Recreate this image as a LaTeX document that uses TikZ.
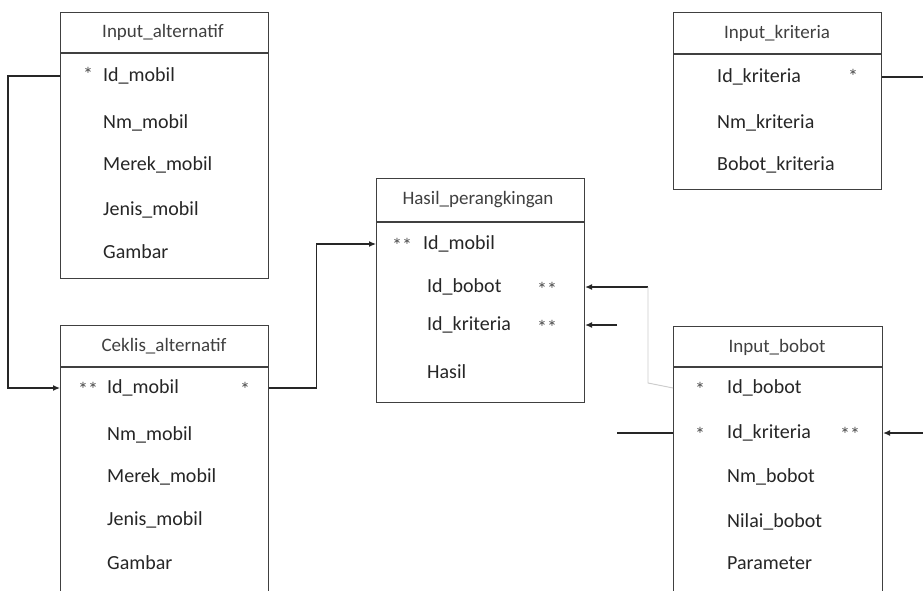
\documentclass[tikz,border=0pt]{standalone}
\usepackage{fontspec}
\setmainfont{Carlito}
\usetikzlibrary{arrows.meta}
\begin{document}
\begin{tikzpicture}[x=1pt,y=-1pt,
  tbl/.style={draw=black!75, line width=1.1pt, anchor=north west, inner sep=0pt, minimum width=208pt},
  hline/.style={draw=black!75, line width=1.1pt},
  fld/.style={anchor=west, inner sep=0pt, font=\fontsize{20}{24}\selectfont, text=black!85},
  ttl/.style={anchor=center, inner sep=0pt, font=\fontsize{19}{23}\selectfont, text=black!75},
  starlbl/.style={anchor=center, inner sep=0pt, font=\fontsize{20}{24}\selectfont, text=black!70},
  conn/.style={draw=black!85, line width=1.2pt},
  faint/.style={draw=black!20, line width=0.9pt},
  arr/.style={-{Latex[length=7pt,width=6pt]}}
]
\clip (0,0) rectangle (923,590);
\fill[white] (0,0) rectangle (923,590);

% Input_alternatif
\node[tbl, minimum height=266pt] (ia) at (60,12) {};
\draw[hline] (60,53) -- (268,53);
\node[ttl] (iat) at (163,32) {Input\_alternatif};
\node[starlbl] (ias) at (88,74) {*};
\node[fld] (ia1) at (103,76) {Id\_mobil};
\node[fld] (ia2) at (103,123) {Nm\_mobil};
\node[fld] (ia3) at (103,165) {Merek\_mobil};
\node[fld] (ia4) at (103,210) {Jenis\_mobil};
\node[fld] (ia5) at (103,252) {Gambar};

% Ceklis_alternatif
\node[tbl, minimum height=280pt] (ca) at (60,325) {};
\draw[hline] (60,367) -- (268,367);
\node[ttl] (cat) at (164,346) {Ceklis\_alternatif};
\node[starlbl] (cas1) at (88,389) {**};
\node[starlbl] (cas2) at (245,389) {*};
\node[fld] (ca1) at (107,388) {Id\_mobil};
\node[fld] (ca2) at (107,435) {Nm\_mobil};
\node[fld] (ca3) at (107,477) {Merek\_mobil};
\node[fld] (ca4) at (107,520) {Jenis\_mobil};
\node[fld] (ca5) at (107,563) {Gambar};

% Hasil_perangkingan
\node[tbl, minimum height=224pt] (hp) at (376,178) {};
\draw[hline] (376,222) -- (584,222);
\node[ttl] (hpt) at (478,200) {Hasil\_perangkingan};
\node[starlbl] (hps1) at (402,245) {**};
\node[fld] (hp1) at (423,244) {Id\_mobil};
\node[fld] (hp2) at (427,287) {Id\_bobot};
\node[fld] (hp3) at (427,325) {Id\_kriteria};
\node[fld] (hp4) at (427,372) {Hasil};
\node[starlbl] (hps2) at (547,289) {**};
\node[starlbl] (hps3) at (547,327) {**};

% Input_kriteria
\node[tbl, minimum height=177pt] (ik) at (673,12) {};
\draw[hline] (673,54) -- (881,54);
\node[ttl] (ikt) at (777,33) {Input\_kriteria};
\node[fld] (ik1) at (717,77) {Id\_kriteria};
\node[fld] (ik2) at (717,123) {Nm\_kriteria};
\node[fld] (ik3) at (717,165) {Bobot\_kriteria};
\node[starlbl] (iks) at (853,76) {*};

% Input_bobot
\node[tbl, minimum width=209pt, minimum height=280pt] (ib) at (673,326) {};
\draw[hline] (673,367) -- (882,367);
\node[ttl] (ibt) at (777,347) {Input\_bobot};
\node[starlbl] (ibs1) at (700,389) {*};
\node[starlbl] (ibs2) at (700,434) {*};
\node[fld] (ib1) at (727,388) {Id\_bobot};
\node[fld] (ib2) at (727,433) {Id\_kriteria};
\node[fld] (ib3) at (727,477) {Nm\_bobot};
\node[fld] (ib4) at (727,522) {Nilai\_bobot};
\node[fld] (ib5) at (727,563) {Parameter};
\node[starlbl] (ibs3) at (850,434) {**};

% connectors
\draw[conn,arr] (ia.west |- ia1) -- ++(-52,0) |- (ca.west |- ca1);
\draw[conn,arr] (ca.east |- ca1) -- ++(47,0) |- (hp.west |- hp1);
\draw[conn,arr] (ik.east |- ik1) -- ++(41,0) |- (ib.east |- ib2);

\coordinate (bb) at (648,287);
\coordinate (kk) at (617,325);
\coordinate (kk2) at (617,433);
\draw[conn,arr] (bb) -- (hp.east |- hp2);
\draw[faint] (bb) -- (648,383) -- (ib.west |- ib1);
\draw[conn,arr] (kk) -- (hp.east |- hp3);
\draw[conn] (kk2) -- (ib.west |- ib2);
\end{tikzpicture}
\end{document}
